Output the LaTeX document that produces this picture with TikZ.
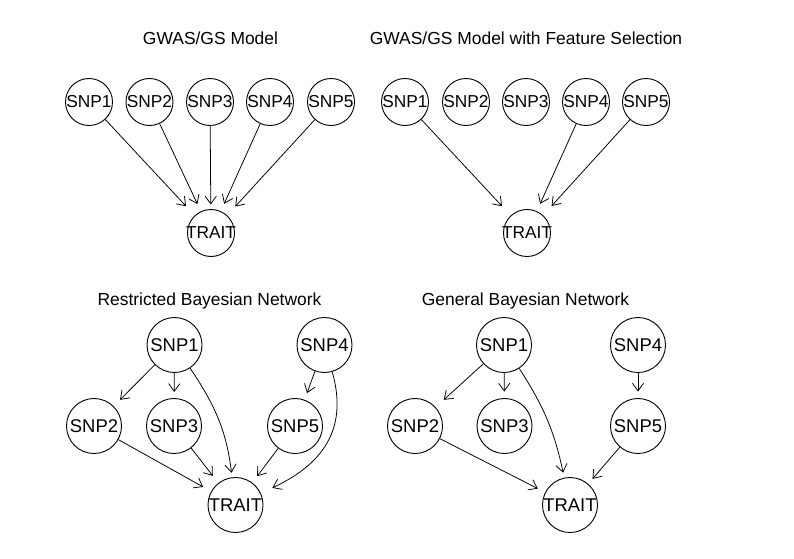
\documentclass[tikz,border=0pt]{standalone}
\usepackage{fontspec}
\setmainfont{Liberation Sans}
\usetikzlibrary{arrows.meta}
\def\fs#1{\fontsize{#1}{#1}\selectfont}
\tikzset{
  snp/.style={draw, circle, line width=0.65pt, inner sep=-2pt, minimum size=1.175cm, font=\fs{12.3}},
  bigsnp/.style={snp, minimum size=1.375cm, font=\fs{13.1}},
  ttl/.style={anchor=base, font=\fs{12.4}},
  edge/.style={line width=0.55pt, -{Straight Barb[length=5.5pt, width=8pt]}, shorten >=#1},
  edge/.default=5pt
}

\begin{document}
\begin{tikzpicture}[x=0.025cm, y=-0.025cm]
        \useasboundingbox (0,0) rectangle (794,558);
        % GWAS/GS model
        \node[ttl] (ta) at (210.5, 45) {GWAS/GS Model};
        \node[snp] (a1) at (89, 102) {SNP1};
        \node[snp] (a2) at (149.5, 102) {SNP2};
        \node[snp] (a3) at (210, 102) {SNP3};
        \node[snp] (a4) at (270, 102) {SNP4};
        \node[snp] (a5) at (331, 102) {SNP5};
        \node[snp] (at) at (211, 233) {TRAIT};
        \draw[edge=9pt] (a1) -- (at);
        \draw[edge=5.7pt] (a2) -- (at);
        \draw[edge=3.2pt] (a3) -- (at);
        \draw[edge=5.7pt] (a4) -- (at);
        \draw[edge=8.5pt] (a5) -- (at);
        % with feature selection
        \node[ttl] (tb) at (526, 45) {GWAS/GS Model with Feature Selection};
        \node[snp] (b1) at (405, 102) {SNP1};
        \node[snp] (b2) at (466, 102) {SNP2};
        \node[snp] (b3) at (526, 102) {SNP3};
        \node[snp] (b4) at (586, 102) {SNP4};
        \node[snp] (b5) at (646, 102) {SNP5};
        \node[snp] (bt) at (527, 233) {TRAIT};
        \draw[edge=9pt] (b1) -- (bt);
        \draw[edge=5.7pt] (b4) -- (bt);
        \draw[edge=9pt] (b5) -- (bt);
        % restricted BN
        \node[ttl] (tc) at (209.5, 305) {Restricted Bayesian Network};
        \node[bigsnp] (c1) at (174.5, 345) {SNP1};
        \node[bigsnp] (c4) at (324.5, 345) {SNP4};
        \node[bigsnp] (c2) at (94, 426) {SNP2};
        \node[bigsnp] (c3) at (174, 426) {SNP3};
        \node[bigsnp] (c5) at (295, 426) {SNP5};
        \node[bigsnp] (ct) at (235.5, 505) {TRAIT};
        \draw[edge=6.4pt] (c1) -- (c2);
        \draw[edge=4.3pt] (c1) -- (c3);
        \draw[edge=3.2pt] (c1) to[out=-56, in=97] (ct);
        \draw[edge=6.4pt] (c2) -- (ct);
        \draw[edge=6.4pt] (c3) -- (ct);
        \draw[edge=5.7pt] (c5) -- (ct);
        \draw[edge=5pt] (c4) -- (c5);
        \draw[edge=9pt] (c4) to[out=-74, in=25, looseness=1.15] (ct);
        % general BN
        \node[ttl] (td) at (525.5, 305) {General Bayesian Network};
        \node[bigsnp] (d1) at (504, 345) {SNP1};
        \node[bigsnp] (d4) at (638, 345) {SNP4};
        \node[bigsnp] (d2) at (415, 426) {SNP2};
        \node[bigsnp] (d3) at (504.5, 426) {SNP3};
        \node[bigsnp] (d5) at (638, 426) {SNP5};
        \node[bigsnp] (dt) at (570, 505) {TRAIT};
        \draw[edge=7.8pt] (d1) -- (d2);
        \draw[edge=4.6pt] (d1) -- (d3);
        \draw[edge=3.6pt] (d1) to[out=-57, in=102] (dt);
        \draw[edge=5.8pt] (d2) -- (dt);
        \draw[edge=4.6pt] (d4) -- (d5);
        \draw[edge=4.6pt] (d5) -- (dt);
\end{tikzpicture}
\end{document}
